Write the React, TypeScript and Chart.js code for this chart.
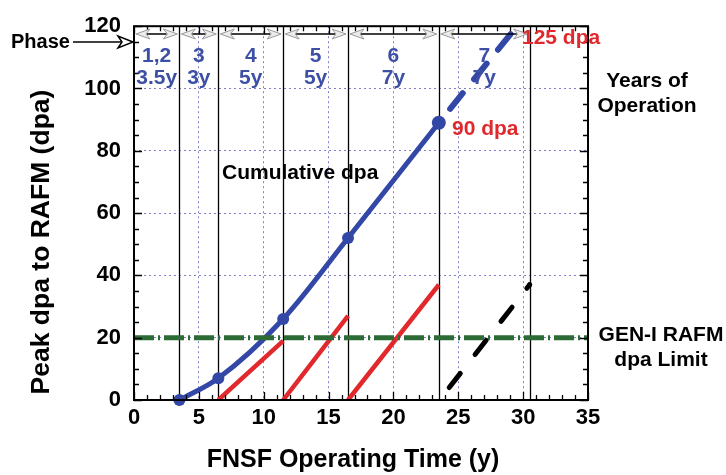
import React, { useEffect, useRef } from "react";
import { Chart, registerables } from "chart.js";

Chart.register(...registerables);

// ---- data ----
const cumYears = [3.5, 6.5, 11.5, 16.5, 23.5];
const cumDpa = [0, 7, 26, 52, 89];
const projYears = [23.5, 30.5];
const projDpa = [89, 125];
const phase4Years = [6.5, 11.5];
const phase4Dpa = [0, 19];
const phase5Years = [11.5, 16.5];
const phase5Dpa = [0, 27];
const phase6Years = [16.5, 23.5];
const phase6Dpa = [0, 37];
const phase7Years = [24.3, 30.5];
const phase7Dpa = [4, 37];
const limitYears = [0, 35];
const limitDpa = [20, 20];
const phaseBounds = [0, 3.5, 6.5, 11.5, 16.5, 23.5, 30.5];
const phaseNames = ["1,2", "3", "4", "5", "6", "7"];
const phaseDurations = ["3.5y", "3y", "5y", "5y", "7y", "7y"];
const xTitle = "FNSF Operating Time (y)";
const yTitle = "Peak dpa to RAFM (dpa)";

const FONT = "'Liberation Sans', Arial, Helvetica, sans-serif";
const BLUE = "#3347a6";
const BLUE_TXT = "#3d50a6";
const RED = "#e1282c";
const GREEN = "#2c6b35";

const pts = (xs: number[], ys: number[]) => xs.map((x, i) => ({ x, y: ys[i] }));

const decorPlugin = {
  id: "decor",
  beforeDatasetsDraw(chart: any) {
    const { ctx, scales } = chart;
    const xs = scales.x, ys = scales.y;
    ctx.save();
    ctx.strokeStyle = "#000";
    ctx.lineWidth = 1.3;
    phaseBounds.slice(1).forEach((b) => {
      const px = Math.round(xs.getPixelForValue(b)) + 0.5;
      ctx.beginPath();
      ctx.moveTo(px, ys.getPixelForValue(120));
      ctx.lineTo(px, ys.getPixelForValue(0));
      ctx.stroke();
    });
    ctx.restore();
  },
  afterDraw(chart: any) {
    const { ctx, scales, chartArea } = chart;
    const xs = scales.x, ys = scales.y;
    const { left, right, top, bottom } = chartArea;
    ctx.save();
    // minor/major ticks inside the frame
    ctx.strokeStyle = "#000";
    ctx.lineWidth = 1.3;
    for (let v = 0; v <= 35; v += 1) {
      const px = Math.round(xs.getPixelForValue(v)) + 0.5;
      const len = v % 5 === 0 ? 8 : 5;
      ctx.beginPath();
      ctx.moveTo(px, bottom);
      ctx.lineTo(px, bottom - len);
      ctx.moveTo(px, top);
      ctx.lineTo(px, top + len);
      ctx.stroke();
    }
    for (let v = 0; v <= 120; v += 5) {
      const py = Math.round(ys.getPixelForValue(v)) + 0.5;
      const len = v % 20 === 0 ? 8 : 5;
      ctx.beginPath();
      ctx.moveTo(left, py);
      ctx.lineTo(left + len, py);
      ctx.moveTo(right, py);
      ctx.lineTo(right - len, py);
      ctx.stroke();
    }
    // frame
    ctx.lineWidth = 2;
    ctx.strokeRect(left, top, right - left, bottom - top);

    // phase arrows at top
    const ay = ys.getPixelForValue(117.5);
    for (let i = 0; i < phaseBounds.length - 1; i++) {
      const xa = xs.getPixelForValue(phaseBounds[i]);
      const xb = xs.getPixelForValue(phaseBounds[i + 1]);
      ctx.strokeStyle = "#9a9a9a";
      ctx.fillStyle = "#ececec";
      ctx.lineWidth = 1;
      ctx.beginPath();
      ctx.moveTo(xa + 2, ay);
      ctx.lineTo(xa + 16, ay - 5);
      ctx.lineTo(xa + 12, ay);
      ctx.lineTo(xa + 16, ay + 5);
      ctx.closePath();
      ctx.fill();
      ctx.stroke();
      ctx.beginPath();
      ctx.moveTo(xb - 2, ay);
      ctx.lineTo(xb - 16, ay - 5);
      ctx.lineTo(xb - 12, ay);
      ctx.lineTo(xb - 16, ay + 5);
      ctx.closePath();
      ctx.fill();
      ctx.stroke();
      ctx.strokeStyle = "#000";
      ctx.lineWidth = 1.5;
      ctx.beginPath();
      ctx.moveTo(xa + 13, ay);
      ctx.lineTo(xb - 13, ay);
      ctx.stroke();
    }

    // phase labels
    ctx.fillStyle = BLUE_TXT;
    ctx.font = `bold 21px ${FONT}`;
    ctx.textAlign = "center";
    ctx.textBaseline = "middle";
    for (let i = 0; i < phaseNames.length; i++) {
      const cx = xs.getPixelForValue((phaseBounds[i] + phaseBounds[i + 1]) / 2);
      ctx.fillText(phaseNames[i], cx, ys.getPixelForValue(110.5));
      ctx.fillText(phaseDurations[i], cx, ys.getPixelForValue(103.3));
    }

    // "Phase" pointer
    ctx.fillStyle = "#000";
    ctx.font = `bold 20px ${FONT}`;
    ctx.textAlign = "left";
    const py = 42;
    ctx.fillText("Phase", 11, py);
    ctx.strokeStyle = "#000";
    ctx.lineWidth = 1.5;
    ctx.beginPath();
    ctx.moveTo(73, py);
    ctx.lineTo(left - 12, py);
    ctx.stroke();
    ctx.beginPath();
    ctx.moveTo(left - 1, py);
    ctx.lineTo(left - 16, py - 6);
    ctx.lineTo(left - 12, py);
    ctx.lineTo(left - 16, py + 6);
    ctx.closePath();
    ctx.fillStyle = "#fff";
    ctx.fill();
    ctx.stroke();

    // annotations
    ctx.font = `bold 21px ${FONT}`;
    ctx.fillStyle = RED;
    ctx.textAlign = "left";
    ctx.fillText("125 dpa", 522, 38);
    ctx.fillText("90 dpa", 452, 129);
    ctx.fillStyle = "#000";
    ctx.fillText("Cumulative dpa", 222, 173);
    ctx.textAlign = "center";
    ctx.fillText("Years of", 647, 81);
    ctx.fillText("Operation", 647, 106);
    ctx.fillText("GEN-I RAFM", 661, 335);
    ctx.fillText("dpa Limit", 661, 360);

    // axis titles
    ctx.font = `bold 25px ${FONT}`;
    ctx.fillText(xTitle, 353, 460);
    ctx.save();
    ctx.translate(42, 242);
    ctx.rotate(-Math.PI / 2);
    ctx.font = `bold 26.5px ${FONT}`;
    ctx.fillText(yTitle, 0, 0);
    ctx.restore();
    ctx.restore();
  },
};

export default function App() {
  const ref = useRef<HTMLCanvasElement | null>(null);
  useEffect(() => {
    if (!ref.current) return;
    const chart = new Chart(ref.current, {
      type: "scatter",
      data: {
        datasets: [
          {
            data: pts(limitYears, limitDpa),
            showLine: true,
            borderColor: GREEN,
            borderWidth: 5,
            borderDash: [20, 4, 2, 4],
            pointRadius: 0,
          },
          {
            data: pts(phase4Years, phase4Dpa),
            showLine: true,
            borderColor: RED,
            borderWidth: 4.5,
            pointRadius: 0,
          },
          {
            data: pts(phase5Years, phase5Dpa),
            showLine: true,
            borderColor: RED,
            borderWidth: 4.5,
            pointRadius: 0,
          },
          {
            data: pts(phase6Years, phase6Dpa),
            showLine: true,
            borderColor: RED,
            borderWidth: 4.5,
            pointRadius: 0,
          },
          {
            data: pts(phase7Years, phase7Dpa),
            showLine: true,
            borderColor: "#000",
            backgroundColor: "#000",
            borderWidth: 5,
            borderDash: [18, 24],
            borderCapStyle: "round",
            pointRadius: [0, 2.5],
            pointBorderWidth: 0,
          },
          {
            data: pts(projYears, projDpa),
            showLine: true,
            borderColor: BLUE,
            borderWidth: 6,
            borderDash: [20, 18],
            borderDashOffset: 20,
            borderCapStyle: "round",
            pointRadius: 0,
          },
          {
            data: pts(cumYears, cumDpa),
            showLine: true,
            borderColor: BLUE,
            backgroundColor: BLUE,
            borderWidth: 5,
            cubicInterpolationMode: "monotone",
            pointRadius: [6, 6, 6, 6, 7],
            pointBorderWidth: 0,
            clip: false,
          },
        ] as any,
      },
      options: {
        responsive: false,
        animation: false,
        devicePixelRatio: 1,
        layout: { padding: { top: 23, right: 138, left: 0, bottom: 0 } },
        plugins: { legend: { display: false }, tooltip: { enabled: false } },
        scales: {
          x: {
            type: "linear",
            min: 0,
            max: 35,
            ticks: {
              stepSize: 5,
              autoSkip: false,
              maxRotation: 0,
              padding: 5,
              color: "#000",
              font: { family: FONT, size: 22, weight: "bold" },
            },
            grid: { color: "#7f7fc8", lineWidth: 1, drawTicks: false },
            border: { display: false, dash: [2, 3] },
            title: { display: false },
            afterFit: (s: any) => {
              s.height = 75;
            },
          },
          y: {
            type: "linear",
            min: 0,
            max: 120,
            ticks: {
              stepSize: 20,
              autoSkip: false,
              padding: 13,
              color: "#000",
              font: { family: FONT, size: 22, weight: "bold" },
            },
            grid: { color: "#7f7fc8", lineWidth: 1, drawTicks: false },
            border: { display: false, dash: [2, 3] },
            title: { display: false },
            afterFit: (s: any) => {
              s.width = 134;
            },
          },
        },
      } as any,
      plugins: [decorPlugin],
    });
    return () => chart.destroy();
  }, []);
  return (
    <div style={{ position: "absolute", left: 0, top: 0, width: 726, height: 475, background: "#fff" }}>
      <canvas ref={ref} width={726} height={475} style={{ display: "block" }} />
    </div>
  );
}
